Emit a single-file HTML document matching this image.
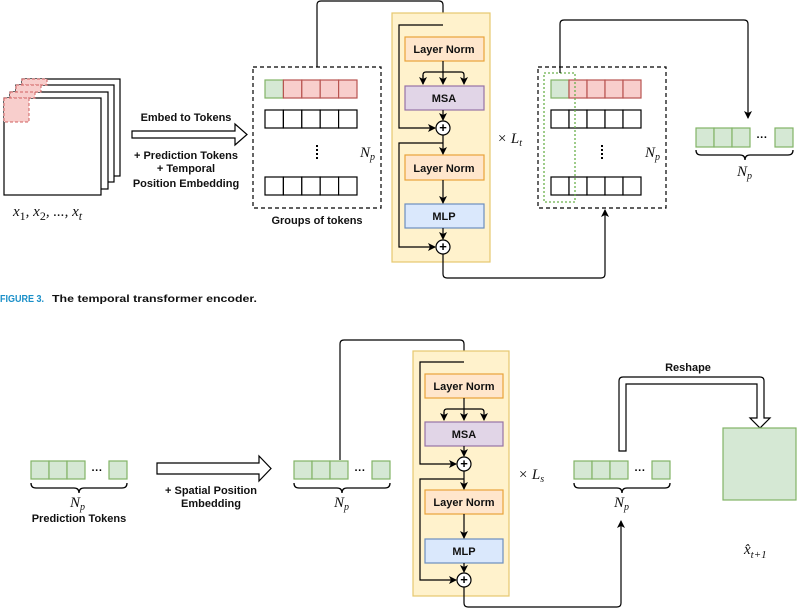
<!DOCTYPE html>
<html><head><meta charset="utf-8"><style>
html,body{margin:0;padding:0;background:#fff;}
svg{display:block;}
text{font-family:"Liberation Sans",sans-serif;}
.b{font-weight:bold;font-size:11px;fill:#111;}
.m{font-family:"Liberation Serif",serif;font-style:italic;font-size:15px;fill:#111;}
</style></head><body>
<svg width="800" height="611" viewBox="0 0 800 611" xmlns="http://www.w3.org/2000/svg">
<defs>
<marker id="a" markerWidth="8" markerHeight="8" refX="7" refY="4" orient="auto" markerUnits="userSpaceOnUse"><path d="M0,0 L8,4 L0,8 L2,4 z" fill="#000"/></marker>
</defs>
<!-- frames -->
<g stroke="#000" stroke-width="1.2" fill="#fff">
<rect x="22" y="79" width="98" height="97"/>
<rect x="16" y="85" width="98" height="97"/>
<rect x="10" y="92" width="98" height="97"/>
<rect x="4" y="98" width="97" height="97"/>
</g>
<g fill="#f8cecc" stroke="#d06060" stroke-dasharray="3,2" stroke-width="1">
<rect x="22" y="79" width="25" height="6"/>
<rect x="16" y="85" width="25" height="7"/>
<rect x="10" y="92" width="25" height="6"/>
<rect x="4" y="98" width="25" height="24"/>
</g>
<text class="m" x="13" y="216" font-size="18">x<tspan font-size="12" dy="4" font-style="normal">1</tspan><tspan dy="-4">, x</tspan><tspan font-size="12" dy="4" font-style="normal">2</tspan><tspan dy="-4">, ..., x</tspan><tspan font-size="12" dy="4">t</tspan></text>
<!-- embed arrow -->
<text class="b" x="186" y="121" text-anchor="middle">Embed to Tokens</text>
<path d="M132,131 H235 V124 L247,134.5 L235,145 V138 H132 Z" fill="#fff" stroke="#000" stroke-width="1.2"/>
<text class="b" x="186" y="159" text-anchor="middle">+ Prediction Tokens</text>
<text class="b" x="186" y="172" text-anchor="middle">+ Temporal</text>
<text class="b" x="186" y="187" text-anchor="middle">Position Embedding</text>
<!-- groups of tokens -->
<rect x="253" y="67" width="128" height="141" fill="none" stroke="#000" stroke-dasharray="4,3" stroke-width="1.2"/>
<g stroke-width="1.2">
<rect x="265" y="80" width="18.4" height="18" fill="#d5e8d4" stroke="#82b366"/>
<g fill="#f8cecc" stroke="#b85450"><rect x="283.4" y="80" width="18.4" height="18"/><rect x="301.8" y="80" width="18.4" height="18"/><rect x="320.2" y="80" width="18.4" height="18"/><rect x="338.6" y="80" width="18.4" height="18"/></g>
<g fill="#fff" stroke="#000">
<rect x="265" y="110" width="18.4" height="18"/><rect x="283.4" y="110" width="18.4" height="18"/><rect x="301.8" y="110" width="18.4" height="18"/><rect x="320.2" y="110" width="18.4" height="18"/><rect x="338.6" y="110" width="18.4" height="18"/>
<rect x="265" y="177" width="18.4" height="18"/><rect x="283.4" y="177" width="18.4" height="18"/><rect x="301.8" y="177" width="18.4" height="18"/><rect x="320.2" y="177" width="18.4" height="18"/><rect x="338.6" y="177" width="18.4" height="18"/>
</g></g>
<line x1="317" y1="145" x2="317" y2="160" stroke="#000" stroke-width="2" stroke-dasharray="2,2"/>
<text class="m" x="360" y="157">N<tspan font-size="10" dy="3">p</tspan></text>
<text class="b" x="317" y="224" text-anchor="middle">Groups of tokens</text>
<path d="M317,67 V5 Q317,1 321,1 H439 Q443,1 443,5 V36" fill="none" stroke="#000" stroke-width="1.2" marker-end="url(#a)"/>

<!-- top transformer -->
<rect x="392" y="13" width="98" height="249" fill="#fff2cc" stroke="#e6c86e" stroke-width="1.2"/>
<g stroke-width="1.2">
<rect x="405" y="37" width="79" height="24" fill="#ffe6cc" stroke="#e8a33a"/>
<rect x="405" y="86" width="79" height="24" fill="#e1d5e7" stroke="#9673a6"/>
<rect x="405" y="155" width="79" height="25" fill="#ffe6cc" stroke="#e8a33a"/>
<rect x="405" y="204" width="79" height="24" fill="#dae8fc" stroke="#6c8ebf"/>
</g>
<text class="b" x="444" y="53" text-anchor="middle">Layer Norm</text>
<text class="b" x="444" y="102" text-anchor="middle">MSA</text>
<text class="b" x="444" y="172" text-anchor="middle">Layer Norm</text>
<text class="b" x="444" y="220" text-anchor="middle">MLP</text>
<g fill="none" stroke="#000" stroke-width="1.2">
<path d="M443,61 V72"/><path d="M423,84 V75 Q423,72 426,72 H461 Q464,72 464,75 V84" marker-end="url(#a)"/>
<path d="M423,75 V84" marker-end="url(#a)"/><path d="M443,72 V84" marker-end="url(#a)"/>
<path d="M443,110 V120" marker-end="url(#a)"/>
<path d="M443,25 H399 V128 H435" marker-end="url(#a)"/>
<path d="M443,135 V154" marker-end="url(#a)"/>
<path d="M443,143 H399 V247 H435" marker-end="url(#a)"/>
<path d="M443,180 V203" marker-end="url(#a)"/>
<path d="M443,228 V239" marker-end="url(#a)"/>
<circle cx="443" cy="128" r="7" fill="#fff"/><circle cx="443" cy="247" r="7" fill="#fff"/>
<path d="M443,254 V274 Q443,278 447,278 H601 Q605,278 605,274 V210" marker-end="url(#a)"/>
</g>
<text x="443" y="132" text-anchor="middle" font-weight="bold" font-size="13">+</text>
<text x="443" y="251" text-anchor="middle" font-weight="bold" font-size="13">+</text>
<text class="m" x="497" y="143">× L<tspan font-size="10" dy="3">t</tspan></text>

<!-- right dashed box -->
<rect x="538" y="67" width="128" height="141" fill="none" stroke="#000" stroke-dasharray="4,3" stroke-width="1.2"/>
<g stroke-width="1.2">
<rect x="551" y="80" width="18" height="18" fill="#d5e8d4" stroke="#82b366"/>
<g fill="#f8cecc" stroke="#b85450"><rect x="569" y="80" width="18" height="18"/><rect x="587" y="80" width="18" height="18"/><rect x="605" y="80" width="18" height="18"/><rect x="623" y="80" width="18" height="18"/></g>
<g fill="#fff" stroke="#000">
<rect x="551" y="110" width="18" height="18"/><rect x="569" y="110" width="18" height="18"/><rect x="587" y="110" width="18" height="18"/><rect x="605" y="110" width="18" height="18"/><rect x="623" y="110" width="18" height="18"/>
<rect x="551" y="177" width="18" height="18"/><rect x="569" y="177" width="18" height="18"/><rect x="587" y="177" width="18" height="18"/><rect x="605" y="177" width="18" height="18"/><rect x="623" y="177" width="18" height="18"/>
</g></g>
<rect x="544" y="73" width="31" height="129" fill="none" stroke="#6ab04c" stroke-dasharray="2,2" stroke-width="1.3"/>
<line x1="602" y1="145" x2="602" y2="160" stroke="#000" stroke-width="2" stroke-dasharray="2,2"/>
<text class="m" x="645" y="157">N<tspan font-size="10" dy="3">p</tspan></text>
<path d="M560,73 V24 Q560,20 564,20 H744 Q748,20 748,24 V118" fill="none" stroke="#000" stroke-width="1.2" marker-end="url(#a)"/>
<g fill="#d5e8d4" stroke="#82b366" stroke-width="1.2">
<rect x="696" y="128" width="18" height="19"/><rect x="714" y="128" width="18" height="19"/><rect x="732" y="128" width="18" height="19"/><rect x="775" y="128" width="18" height="19"/>
</g>
<text x="762" y="141" text-anchor="middle" font-size="11" font-weight="bold">···</text>
<path d="M696,150 Q696,155 701,155 H740 Q745,155 745,160 Q745,155 750,155 H788 Q793,155 793,150" fill="none" stroke="#000" stroke-width="1.3"/>
<text class="m" x="737" y="176">N<tspan font-size="10" dy="3">p</tspan></text>

<!-- caption -->
<text x="0" y="302" font-size="10" font-weight="bold" fill="#1a8fc8" textLength="44" lengthAdjust="spacingAndGlyphs">FIGURE 3.</text>
<text x="52" y="302" font-size="10.5" font-weight="bold" fill="#111" textLength="205" lengthAdjust="spacingAndGlyphs">The temporal transformer encoder.</text>

<!-- bottom -->
<g fill="#d5e8d4" stroke="#82b366" stroke-width="1.2">
<rect x="31" y="461" width="18" height="18"/><rect x="49" y="461" width="18" height="18"/><rect x="67" y="461" width="18" height="18"/><rect x="109" y="461" width="18" height="18"/>
<rect x="294" y="461" width="18" height="18"/><rect x="312" y="461" width="18" height="18"/><rect x="330" y="461" width="18" height="18"/><rect x="372" y="461" width="18" height="18"/>
<rect x="574" y="461" width="18" height="18"/><rect x="592" y="461" width="18" height="18"/><rect x="610" y="461" width="18" height="18"/><rect x="652" y="461" width="18" height="18"/>
</g>
<text x="97" y="474" text-anchor="middle" font-size="11" font-weight="bold">···</text>
<text x="360" y="474" text-anchor="middle" font-size="11" font-weight="bold">···</text>
<text x="640" y="474" text-anchor="middle" font-size="11" font-weight="bold">···</text>
<g fill="none" stroke="#000" stroke-width="1.3">
<path d="M31,483 Q31,488 36,488 H74 Q79,488 79,493 Q79,488 84,488 H122 Q127,488 127,483"/>
<path d="M294,483 Q294,488 299,488 H337 Q342,488 342,493 Q342,488 347,488 H385 Q390,488 390,483"/>
<path d="M574,483 Q574,488 579,488 H617 Q622,488 622,493 Q622,488 627,488 H665 Q670,488 670,483"/>
</g>
<text class="m" x="70" y="507">N<tspan font-size="10" dy="3">p</tspan></text>
<text class="m" x="334" y="507">N<tspan font-size="10" dy="3">p</tspan></text>
<text class="m" x="614" y="507">N<tspan font-size="10" dy="3">p</tspan></text>
<text class="b" x="79" y="522" text-anchor="middle">Prediction Tokens</text>
<path d="M157,463 H259 V456 L271,468.5 L259,481 V474 H157 Z" fill="#fff" stroke="#000" stroke-width="1.2"/>
<text class="b" x="211" y="494" text-anchor="middle">+ Spatial Position</text>
<text class="b" x="211" y="507" text-anchor="middle">Embedding</text>
<path d="M340,460 V344 Q340,340 344,340 H460 Q464,340 464,344 V372" fill="none" stroke="#000" stroke-width="1.2" marker-end="url(#a)"/>

<rect x="413" y="351" width="96" height="245" fill="#fff2cc" stroke="#e6c86e" stroke-width="1.2"/>
<g stroke-width="1.2">
<rect x="425" y="374" width="78" height="24" fill="#ffe6cc" stroke="#e8a33a"/>
<rect x="425" y="422" width="78" height="24" fill="#e1d5e7" stroke="#9673a6"/>
<rect x="425" y="490" width="78" height="24" fill="#ffe6cc" stroke="#e8a33a"/>
<rect x="425" y="539" width="78" height="24" fill="#dae8fc" stroke="#6c8ebf"/>
</g>
<text class="b" x="464" y="390" text-anchor="middle">Layer Norm</text>
<text class="b" x="464" y="438" text-anchor="middle">MSA</text>
<text class="b" x="464" y="506" text-anchor="middle">Layer Norm</text>
<text class="b" x="464" y="555" text-anchor="middle">MLP</text>
<g fill="none" stroke="#000" stroke-width="1.2">
<path d="M464,398 V409"/><path d="M444,420 V412 Q444,409 447,409 H481 Q484,409 484,412 V420" marker-end="url(#a)"/>
<path d="M444,412 V420" marker-end="url(#a)"/><path d="M464,409 V420" marker-end="url(#a)"/>
<path d="M464,446 V456" marker-end="url(#a)"/>
<path d="M464,362 H420 V464 H456" marker-end="url(#a)"/>
<path d="M464,471 V489" marker-end="url(#a)"/>
<path d="M464,479 H420 V580 H456" marker-end="url(#a)"/>
<path d="M464,514 V538" marker-end="url(#a)"/>
<path d="M464,563 V572" marker-end="url(#a)"/>
<circle cx="464" cy="464" r="7" fill="#fff"/><circle cx="464" cy="580" r="7" fill="#fff"/>
<path d="M464,587 V603 Q464,607 468,607 H617 Q621,607 621,603 V521" marker-end="url(#a)"/>
</g>
<text x="464" y="468" text-anchor="middle" font-weight="bold" font-size="13">+</text>
<text x="464" y="584" text-anchor="middle" font-weight="bold" font-size="13">+</text>
<text class="m" x="518" y="479">× L<tspan font-size="10" dy="3">s</tspan></text>

<path d="M619,451 V381 Q619,377 623,377 H760 Q764,377 764,381 V418 H770 L760,428 L750,418 H757 V384 H626 V451 Z" fill="#fff" stroke="#000" stroke-width="1.2"/>
<text class="b" x="688" y="371" text-anchor="middle">Reshape</text>
<rect x="723" y="428" width="73" height="72" fill="#d5e8d4" stroke="#82b366" stroke-width="1.2"/>
<text class="m" x="744" y="554" font-size="17">x̂<tspan font-size="11" dy="4">t+1</tspan></text>
</svg>
</body></html>
